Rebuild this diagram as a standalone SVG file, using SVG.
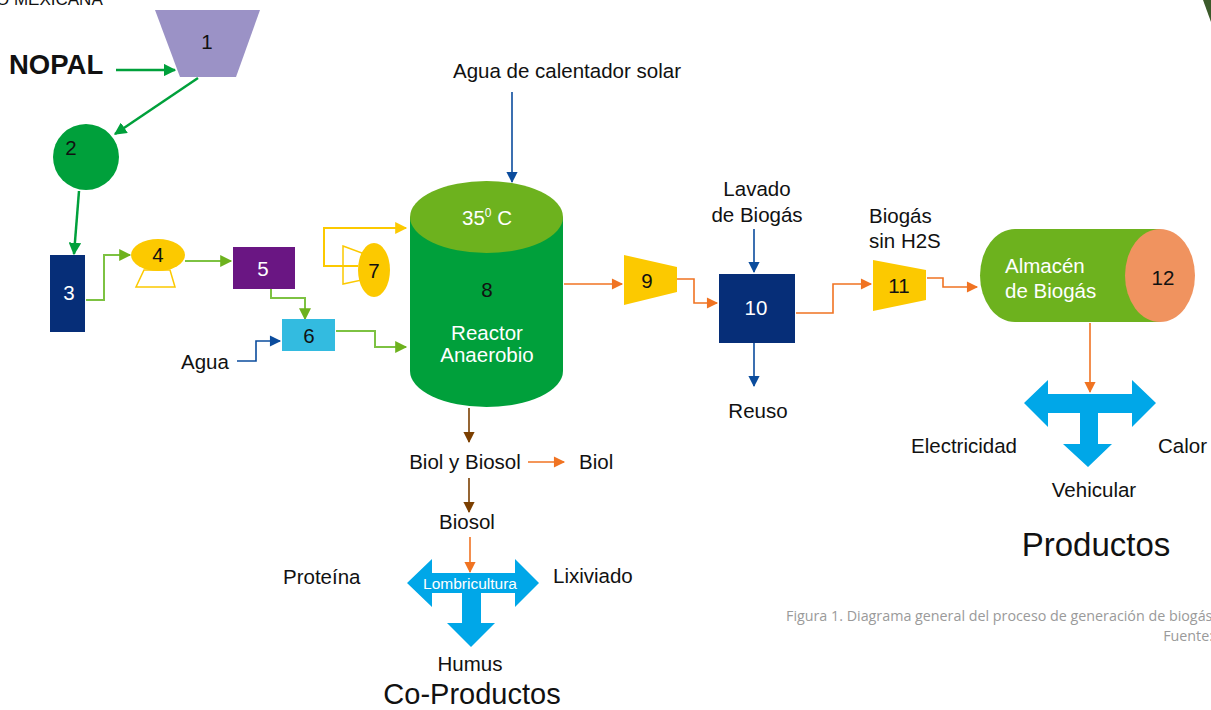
<svg xmlns="http://www.w3.org/2000/svg" width="1211" height="710" viewBox="0 0 1211 710">
<defs>
<style>
text{font-family:"Liberation Sans",Arial,sans-serif;fill:#111}
.lbl{font-size:20.5px}
.c{text-anchor:middle}
.w{fill:#fff}
.g1{stroke:#00A03B;stroke-width:2.5;fill:none}
.g2{stroke:#7DC242;stroke-width:2;fill:none}
.y{stroke:#FCC900;stroke-width:2;fill:none}
.b{stroke:#0B4C9D;stroke-width:1.6;fill:none}
.o{stroke:#F07322;stroke-width:1.6;fill:none}
.br{stroke:#7B3F00;stroke-width:1.6;fill:none}
.cap{font-family:"Open Sans",sans-serif;fill:#9a9a9a;font-size:14.3px}
</style>
<marker id="ag1" viewBox="0 0 10 10" refX="9" refY="5" markerWidth="5" markerHeight="5" orient="auto" markerUnits="strokeWidth"><path d="M0,0L10,5L0,10z" fill="#00A03B"/></marker>
<marker id="ag2" viewBox="0 0 10 10" refX="9" refY="5" markerWidth="7" markerHeight="6" orient="auto" markerUnits="strokeWidth"><path d="M0,0L10,5L0,10z" fill="#6DB21E"/></marker>
<marker id="ay" viewBox="0 0 10 10" refX="9" refY="5" markerWidth="7" markerHeight="6" orient="auto" markerUnits="strokeWidth"><path d="M0,0L10,5L0,10z" fill="#FCC900"/></marker>
<marker id="ab" viewBox="0 0 10 10" refX="9" refY="5" markerWidth="9" markerHeight="7" orient="auto" markerUnits="strokeWidth"><path d="M0,0L10,5L0,10z" fill="#0B4C9D"/></marker>
<marker id="ao" viewBox="0 0 10 10" refX="9" refY="5" markerWidth="9" markerHeight="7" orient="auto" markerUnits="strokeWidth"><path d="M0,0L10,5L0,10z" fill="#F07322"/></marker>
<marker id="abr" viewBox="0 0 10 10" refX="9" refY="5" markerWidth="9" markerHeight="7" orient="auto" markerUnits="strokeWidth"><path d="M0,0L10,5L0,10z" fill="#7B3F00"/></marker>
</defs>
<rect width="1211" height="710" fill="#fff"/>
<text x="-4" y="5" font-size="17" fill="#222">O MEXICANA</text>
<polygon points="1203,0 1211,0 1211,22" fill="#3B5A2A"/>

<g id="connectors">
<line x1="116" y1="70" x2="175" y2="70" class="g1" marker-end="url(#ag1)"/>
<line x1="198" y1="78" x2="115" y2="134" class="g1" marker-end="url(#ag1)"/>
<line x1="79" y1="191" x2="74" y2="254" class="g1" marker-end="url(#ag1)"/>
<polyline points="86,300 104,300 104,255 130,255" class="g2" marker-end="url(#ag2)"/>
<line x1="185" y1="261" x2="231" y2="261" class="g2" marker-end="url(#ag2)"/>
<polyline points="271,289 271,298 305,298 305,319" class="g2" marker-end="url(#ag2)"/>
<polyline points="336,331 375,331 375,347 406,347" class="g2" marker-end="url(#ag2)"/>
<polyline points="237,361 256,361 256,341 280,341" class="b" marker-end="url(#ab)"/>
<polyline points="358,266 324,266 324,228 406,228" class="y" marker-end="url(#ay)"/>
<line x1="512" y1="92" x2="512" y2="182" class="b" marker-end="url(#ab)"/>
<line x1="564" y1="284" x2="622" y2="284" class="o" marker-end="url(#ao)"/>
<polyline points="677,279 694,279 694,303 717,303" class="o" marker-end="url(#ao)"/>
<line x1="754" y1="229" x2="754" y2="272" class="b" marker-end="url(#ab)"/>
<line x1="754" y1="343" x2="754" y2="386" class="b" marker-end="url(#ab)"/>
<polyline points="796,313 833,313 833,284 871,284" class="o" marker-end="url(#ao)"/>
<polyline points="927,278 943,278 943,287 977,287" class="o" marker-end="url(#ao)"/>
<line x1="1090" y1="323" x2="1090" y2="392" class="o" marker-end="url(#ao)"/>
<line x1="469" y1="408" x2="469" y2="442" class="br" marker-end="url(#abr)"/>
<line x1="528" y1="462" x2="564" y2="462" class="o" marker-end="url(#ao)"/>
<line x1="469" y1="478" x2="469" y2="512" class="br" marker-end="url(#abr)"/>
<line x1="470" y1="537" x2="470" y2="572" class="o" marker-end="url(#ao)"/>
</g>

<g id="nopal"><text x="9" y="74" font-size="27.5" font-weight="bold">NOPAL</text></g>
<g id="n1"><polygon points="155,10 260,10 236,77 180,77" fill="#9B92C6"/><text x="207" y="49" class="lbl c">1</text></g>
<g id="n2"><circle cx="86" cy="157" r="33" fill="#00A03B"/><text x="71" y="155" class="lbl c">2</text></g>
<g id="n3"><rect x="50" y="255" width="35" height="77" fill="#062E78"/><text x="69" y="300" class="lbl c w">3</text></g>
<g id="n4"><polygon points="144,270 170,270 175,287 136,287" fill="none" stroke="#FCC900" stroke-width="1.5"/><ellipse cx="158" cy="255" rx="27" ry="16" fill="#FCC900"/><text x="158" y="262" class="lbl c">4</text></g>
<g id="n5"><rect x="233" y="247" width="62" height="42" fill="#6A1683"/><text x="263" y="276" class="lbl c w">5</text></g>
<g id="n6"><rect x="282" y="319" width="53" height="32" fill="#33BBE0"/><text x="309" y="343" class="lbl c">6</text></g>
<g id="agua"><text x="181" y="369" class="lbl">Agua</text></g>
<g id="n7"><polygon points="343,246 362,253 362,280 343,284" fill="none" stroke="#FCC900" stroke-width="1.5"/><ellipse cx="374" cy="270" rx="16" ry="27" fill="#FCC900"/><text x="374" y="278" class="lbl c">7</text></g>
<g id="n8">
<path d="M410,217 L410,371 A76.5,36 0 0 0 563,371 L563,217 Z" fill="#00A03B"/>
<ellipse cx="486.5" cy="217" rx="76.5" ry="36" fill="#6DB21E"/>
<text x="487" y="225" class="lbl c w">35<tspan font-size="12" dy="-8">0</tspan><tspan dy="8"> C</tspan></text>
<text x="487" y="297" class="lbl c">8</text>
<text x="487" y="340" class="lbl c w">Reactor</text>
<text x="487" y="362" class="lbl c w">Anaerobio</text>
</g>
<g id="agua-solar"><text x="567" y="78" class="lbl c">Agua de calentador solar</text></g>
<g id="n9"><polygon points="624,255 677,267 677,292 624,305" fill="#FCC900"/><text x="647" y="288" class="lbl c">9</text></g>
<g id="lavado"><text x="757" y="196" class="lbl c">Lavado</text><text x="757" y="222" class="lbl c">de Biogás</text></g>
<g id="n10"><rect x="719" y="274" width="76" height="69" fill="#062E78"/><text x="756" y="315" class="lbl c w">10</text></g>
<g id="reuso"><text x="758" y="418" class="lbl c">Reuso</text></g>
<g id="biogas-h2s"><text x="869" y="223" class="lbl">Biogás</text><text x="869" y="248" class="lbl">sin H2S</text></g>
<g id="n11"><polygon points="873,260 926,270 926,300 873,311" fill="#FCC900"/><text x="899" y="293" class="lbl c">11</text></g>
<g id="n12">
<path d="M1160,229 L1015,229 A35,46.5 0 0 0 1015,322 L1160,322 Z" fill="#6DB21E"/>
<ellipse cx="1160" cy="275.5" rx="35" ry="46.5" fill="#F0935F"/>
<text x="1005" y="273" class="lbl w">Almacén</text>
<text x="1005" y="298" class="lbl w">de Biogás</text>
<text x="1163" y="285" class="lbl c">12</text>
</g>
<g id="productos-arrow"><polygon points="1024,403 1048,380 1048,394 1132,394 1132,380 1156,403 1132,427 1132,413 1098,413 1098,444 1112,444 1088,467 1063,444 1080,444 1080,413 1048,413 1048,427" fill="#00A7E8"/></g>
<g id="electricidad"><text x="911" y="453" class="lbl">Electricidad</text></g>
<g id="calor"><text x="1158" y="453" class="lbl">Calor</text></g>
<g id="vehicular"><text x="1094" y="497" class="lbl c">Vehicular</text></g>
<g id="productos"><text x="1096" y="556" font-size="33" class="c">Productos</text></g>
<g id="biol-biosol"><text x="465" y="469" class="lbl c">Biol y Biosol</text></g>
<g id="biol"><text x="579" y="469" class="lbl">Biol</text></g>
<g id="biosol"><text x="467" y="529" class="lbl c">Biosol</text></g>
<g id="lombricultura"><polygon points="407,583 432,559 432,573 515,573 515,559 539,583 515,607 515,593 481,593 481,623 495,623 471,647 447,623 462,623 462,593 432,593 432,607" fill="#00A7E8"/><text x="470" y="589" font-size="15.5" class="c w">Lombricultura</text></g>
<g id="proteina"><text x="283" y="584" class="lbl">Proteína</text></g>
<g id="lixiviado"><text x="553" y="583" class="lbl">Lixiviado</text></g>
<g id="humus"><text x="470" y="671" class="lbl c">Humus</text></g>
<g id="coproductos"><text x="472" y="704" font-size="29" class="c">Co-Productos</text></g>
<g id="caption"><text x="786" y="621" class="cap">Figura 1. Diagrama general del proceso de generación de biogás</text><text x="1213" y="641" class="cap" text-anchor="end">Fuente:</text></g>
</svg>
